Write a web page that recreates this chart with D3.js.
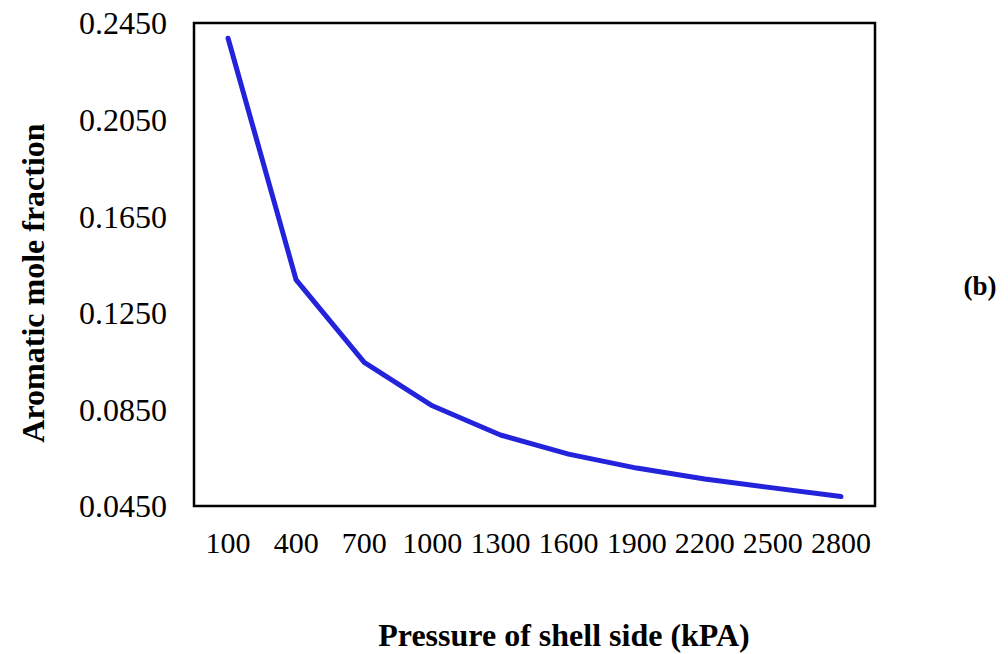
<!DOCTYPE html>
<html>
<head>
<meta charset="utf-8">
<script src="https://cdn.jsdelivr.net/npm/d3@7"></script>
<style>
  body { margin: 0; background: #fff; }
  text { font-family: "Liberation Serif", "Times New Roman", serif; fill: #000; }
</style>
</head>
<body>
<div id="chart"></div>
<script>
// pressure categories on the x axis (kPA)
let pressures = ['100', '400', '700', '1000', '1300', '1600', '1900', '2200', '2500', '2800'];
// aromatic mole fraction
let fractions = [0.2387, 0.1386, 0.1045, 0.0865, 0.0744, 0.0665, 0.0607, 0.0562, 0.0525, 0.0489];
let yTicks = [0.0450, 0.0850, 0.1250, 0.1650, 0.2050, 0.2450];

let buildChart = function() {
  let W = 1008, H = 654;
  let margin = {top: 23, right: 133, bottom: 148, left: 194};

  let svg = d3.select('#chart')
    .append('svg')
    .attr('width', W)
    .attr('height', H);

  let x = d3.scaleBand()
    .domain(pressures)
    .range([margin.left, W - margin.right])
    .padding(0);

  let y = d3.scaleLinear()
    .domain([0.045, 0.245])
    .range([H - margin.bottom, margin.top]);

  // y tick labels
  let yAxis = svg.append('g')
    .attr('transform', `translate(${margin.left - 27}, 0)`)
    .call(d3.axisLeft(y).tickValues(yTicks).tickSize(0).tickFormat(d3.format('.4f')));
  yAxis.select('.domain').remove();
  yAxis.selectAll('text')
    .attr('x', 0)
    .attr('dy', '0.34em')
    .style('font-size', '32px')
    .style('font-family', '"Liberation Serif", serif');

  // x tick labels
  let xAxis = svg.append('g')
    .attr('transform', `translate(0, ${H - margin.bottom + 26})`)
    .call(d3.axisBottom(x).tickSize(0));
  xAxis.select('.domain').remove();
  xAxis.selectAll('text')
    .attr('y', 0)
    .attr('dy', '0.71em')
    .style('font-size', '30px')
    .style('font-family', '"Liberation Serif", serif');

  // plot frame
  svg.append('rect')
    .attr('x', margin.left)
    .attr('y', margin.top)
    .attr('width', W - margin.left - margin.right)
    .attr('height', H - margin.top - margin.bottom)
    .attr('fill', 'none')
    .attr('stroke', '#000')
    .attr('stroke-width', 2.5);

  let line = d3.line()
    .x(d => x(d.key) + x.bandwidth() / 2)
    .y(d => y(d.value));

  let points = pressures.map((p, i) => ({key: p, value: fractions[i]}));

  svg.append('path')
    .datum(points)
    .attr('d', line)
    .attr('fill', 'none')
    .attr('stroke', '#2323dc')
    .attr('stroke-width', 5)
    .attr('stroke-linejoin', 'round')
    .attr('stroke-linecap', 'round');

  // axis titles
  svg.append('text')
    .attr('x', 564)
    .attr('y', 646)
    .attr('text-anchor', 'middle')
    .style('font-size', '32px')
    .style('font-weight', 'bold')
    .text('Pressure of shell side (kPA)');

  svg.append('text')
    .attr('transform', 'translate(44, 283) rotate(-90)')
    .attr('text-anchor', 'middle')
    .style('font-size', '32px')
    .style('font-weight', 'bold')
    .text('Aromatic mole fraction');

  svg.append('text')
    .attr('x', 980)
    .attr('y', 295)
    .attr('text-anchor', 'middle')
    .style('font-size', '27px')
    .style('font-weight', 'bold')
    .text('(b)');
};

buildChart();
</script>
</body>
</html>
